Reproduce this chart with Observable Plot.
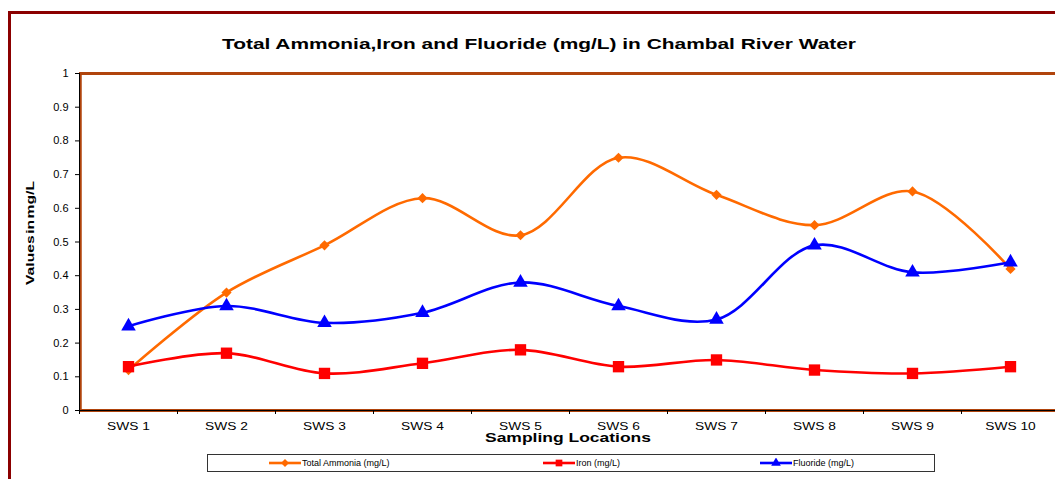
<!DOCTYPE html>
<html>
<head>
<meta charset="utf-8">
<script src="https://cdn.jsdelivr.net/npm/d3@7"></script>
<script src="https://cdn.jsdelivr.net/npm/@observablehq/plot@0.6"></script>
<style>
  html, body { margin: 0; padding: 0; background: #fff; overflow: hidden; width: 1055px; height: 479px; }
  body { font-family: "Liberation Sans", Arial, sans-serif; }
  #wrap { position: relative; width: 1055px; height: 479px; overflow: hidden; }
  #outer { position: absolute; left: 8px; top: 11px; width: 1100px; height: 520px; border: 3px solid #8b0000; box-sizing: border-box; }
  #chart { position: absolute; left: 0; top: 0; width: 1055px; height: 479px; overflow: hidden; }
  #chart svg { max-width: none !important; display: block; }
  .lab { position: absolute; font-weight: bold; white-space: nowrap; color: #000; transform-origin: 50% 50%; }
  #title { left: 539px; top: 44px; font-size: 14.5px; }
  #xlabel { left: 568px; top: 438px; font-size: 12.5px; }
  #ylabel { left: 30px; top: 233px; font-size: 11px; word-spacing: -2px; }
  #legend { position: absolute; left: 207px; top: 454px; width: 728px; height: 18px; border: 1px solid #333; box-sizing: border-box; background: #fff; }
  .item { position: absolute; top: 0; height: 16px; display: flex; align-items: center; font-size: 9px; white-space: nowrap; }
  .item svg { margin-right: 1px; }
</style>
</head>
<body>
<div id="wrap">
  <div id="outer"></div>
  <div id="chart"></div>
  <div id="title" class="lab">Total Ammonia,Iron and Fluoride (mg/L) in Chambal River Water</div>
  <div id="xlabel" class="lab">Sampling Locations</div>
  <div id="ylabel" class="lab">Values in mg/L</div>
  <div id="legend"></div>
</div>
<script>
const categories = ["SWS 1","SWS 2","SWS 3","SWS 4","SWS 5","SWS 6","SWS 7","SWS 8","SWS 9","SWS 10"];
const seriesNames = ["Total Ammonia (mg/L)","Iron (mg/L)","Fluoride (mg/L)"];
const ammonia  = [0.12, 0.35, 0.49, 0.63, 0.52, 0.75, 0.64, 0.55, 0.65, 0.42];
const iron     = [0.13, 0.17, 0.11, 0.14, 0.18, 0.13, 0.15, 0.12, 0.11, 0.13];
const fluoride = [0.25, 0.31, 0.26, 0.29, 0.38, 0.31, 0.27, 0.49, 0.41, 0.44];
const yTicks = [0, 0.1, 0.2, 0.3, 0.4, 0.5, 0.6, 0.7, 0.8, 0.9, 1];
const colors = ["#ff6a00", "#ff0000", "#0000ff"];
const symbols = ["diamond2", "square", "triangle"];
const sizes = [4.6, 6.4, 5.4];
const borderColor = "#b0440c";

const seriesValues = [ammonia, iron, fluoride];
const rows = seriesNames.flatMap((s, i) => categories.map((c, j) => ({series: s, cat: c, value: seriesValues[i][j]})));

const W = 1080, H = 479, mL = 79, mR = 21, mT = 73, mB = 69;
const step = (W - mL - mR) / categories.length;
const tickLen = 4 / (H - mT - mB);

const seriesMarks = seriesNames.flatMap((s, i) => {
  const d = rows.filter(r => r.series === s);
  return [
    Plot.line(d, {x: "cat", y: "value", stroke: colors[i], strokeWidth: 2.6, curve: "catmull-rom"}),
    Plot.dot(d, {x: "cat", y: "value", fill: colors[i], stroke: "none", symbol: () => symbols[i], r: sizes[i]})
  ];
});

const first = categories[0];
const chart = Plot.plot({
  width: W, height: H,
  marginLeft: mL, marginRight: mR, marginTop: mT, marginBottom: mB,
  style: {fontFamily: "'Liberation Sans', Arial, sans-serif", fontSize: "11px", overflow: "visible", background: "transparent", maxWidth: "none"},
  x: {type: "point", domain: categories, padding: 0.5},
  y: {domain: [0, 1]},
  symbol: {domain: symbols, range: symbols},
  marks: [
    Plot.ruleY([1], {stroke: borderColor, strokeWidth: 3}),
    Plot.ruleY([0], {stroke: borderColor, strokeWidth: 3}),
    Plot.ruleX([first], {x: d => d, dx: -step / 2 + 1, y1: 0, y2: 1, stroke: borderColor, strokeWidth: 2.5}),
    Plot.ruleY([0], {stroke: "#000", strokeWidth: 1.2}),
    Plot.ruleX([first], {x: d => d, dx: -step / 2, y1: 0, y2: 1, stroke: "#000", strokeWidth: 1}),
    Plot.ruleX(categories, {x: d => d, dx: -step / 2, y1: 0, y2: -tickLen, stroke: "#000"}),
    Plot.axisY({ticks: yTicks, tickFormat: d => String(+d.toFixed(1)), tickSize: 4, tickPadding: 7, label: null, fontSize: 11, className: "yax"}),
    Plot.axisX({tickSize: 0, tickPadding: 12, label: null, fontSize: 11, className: "xax"}),
    ...seriesMarks
  ]
});
chart.style.maxWidth = "none";
chart.style.width = W + "px";
document.getElementById("chart").appendChild(chart);

chart.querySelectorAll("text").forEach(t => {
  const g = t.closest("g");
  if (g && /xax/.test(g.getAttribute("class") || "")) {
    const tr = t.getAttribute("transform") || "";
    t.setAttribute("transform", tr + " scale(1.25,1)");
  }
});

function fit(id, target, rotate) {
  const el = document.getElementById(id);
  const w = el.getBoundingClientRect().width;
  const s = target / w;
  el.style.transform = `translate(-50%, -50%)${rotate ? " rotate(-90deg)" : ""} scaleX(${s})`;
}
fit("title", 634, false);
fit("xlabel", 166, false);
fit("ylabel", 104, true);

const legendPos = [61, 335, 552];
const legend = document.getElementById("legend");
const symFns = {diamond2: d3.symbolDiamond2, square: d3.symbolSquare, triangle: d3.symbolTriangle};
seriesNames.forEach((s, i) => {
  const item = document.createElement("div");
  item.className = "item";
  item.style.left = legendPos[i] + "px";
  const sym = d3.symbol(symFns[symbols[i]], [40, 45, 40][i])();
  item.innerHTML = `<svg width="32" height="10" viewBox="-16 -5 32 10"><line x1="-16" x2="16" y1="0" y2="0" stroke="${colors[i]}" stroke-width="2.6"/><path d="${sym}" fill="${colors[i]}"/></svg><span>${s}</span>`;
  legend.appendChild(item);
});
</script>
</body>
</html>
